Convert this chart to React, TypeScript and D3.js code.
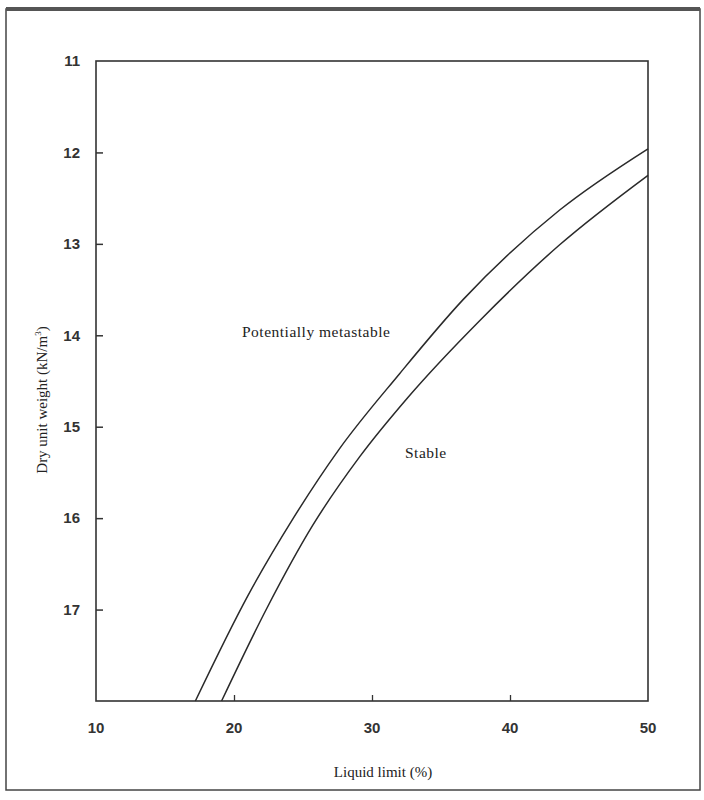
import React, { useEffect, useRef } from 'react';
import * as d3 from 'd3';

// liquid limit (%) vs dry unit weight (kN/m3) for the two boundary curves
const upperLL = [17.2, 21.0, 24.3, 27.6, 32.0, 36.6, 43.6, 50];
const upperGamma = [18.0, 16.85, 16.0, 15.25, 14.42, 13.61, 12.63, 11.96];
const lowerLL = [19.1, 22.4, 25.7, 29.1, 32.6, 37.8, 43.6, 50];
const lowerGamma = [18.0, 16.98, 16.08, 15.33, 14.68, 13.84, 13.01, 12.25];

const xTicks = [10, 20, 30, 40, 50];
const yTicks = [11, 12, 13, 14, 15, 16, 17];

const width = 704;
const height = 800;

const App = () => {
    const svgRef = useRef<SVGSVGElement>(null);

    useEffect(() => {
        const svg = d3.select(svgRef.current);
        svg.selectAll('*').remove();

        const x = d3.scaleLinear().domain([10, 50]).range([96, 648]);
        const y = d3.scaleLinear().domain([11, 18]).range([61, 701]);

        // page frame
        svg.append('rect')
            .attr('x', 6).attr('y', 9)
            .attr('width', 694).attr('height', 781)
            .attr('fill', '#fff')
            .attr('stroke', '#444')
            .attr('stroke-width', 1.5);
        svg.append('line')
            .attr('x1', 6).attr('x2', 700)
            .attr('y1', 9).attr('y2', 9)
            .attr('stroke', '#555')
            .attr('stroke-width', 4);

        // plot box
        svg.append('rect')
            .attr('x', x(10)).attr('y', y(11))
            .attr('width', x(50) - x(10))
            .attr('height', y(18) - y(11))
            .attr('fill', 'none')
            .attr('stroke', '#333')
            .attr('stroke-width', 1.6);

        // y axis, ticks pointing inward
        const yAxis = d3.axisRight(y).tickValues(yTicks.slice(1)).tickSize(7).tickFormat(() => '');
        svg.append('g')
            .attr('transform', `translate(${x(10)},0)`)
            .call(yAxis)
            .call(g => g.select('.domain').remove())
            .selectAll('line').attr('stroke', '#333').attr('stroke-width', 1.5);

        svg.append('g')
            .selectAll('text')
            .data(yTicks)
            .join('text')
            .attr('x', 80)
            .attr('y', d => y(d))
            .attr('dy', '0.35em')
            .attr('text-anchor', 'end')
            .attr('font-family', 'Liberation Sans, Arial, sans-serif')
            .attr('font-size', 15)
            .attr('font-weight', 'bold')
            .attr('fill', '#333')
            .text(d => d);

        // x axis, ticks pointing inward
        const xAxis = d3.axisTop(x).tickValues([20, 30, 40]).tickSize(6).tickFormat(() => '');
        svg.append('g')
            .attr('transform', `translate(0,${y(18)})`)
            .call(xAxis)
            .call(g => g.select('.domain').remove())
            .selectAll('line').attr('stroke', '#333').attr('stroke-width', 1.3);

        svg.append('g')
            .selectAll('text')
            .data(xTicks)
            .join('text')
            .attr('x', d => x(d))
            .attr('y', 733)
            .attr('text-anchor', 'middle')
            .attr('font-family', 'Liberation Sans, Arial, sans-serif')
            .attr('font-size', 15)
            .attr('font-weight', 'bold')
            .attr('fill', '#333')
            .text(d => d);

        // curves
        const line = d3.line<[number, number]>()
            .curve(d3.curveMonotoneX)
            .x(d => x(d[0]))
            .y(d => y(d[1]));

        const curves: [number, number][][] = [
            upperLL.map((v, i) => [v, upperGamma[i]]),
            lowerLL.map((v, i) => [v, lowerGamma[i]]),
        ];
        svg.append('g')
            .selectAll('path')
            .data(curves)
            .join('path')
            .attr('d', line)
            .attr('fill', 'none')
            .attr('stroke', '#2a2a2a')
            .attr('stroke-width', 1.5);

        // region labels
        svg.append('text')
            .attr('x', 242).attr('y', 337)
            .attr('font-family', 'Liberation Serif, Times New Roman, serif')
            .attr('font-size', 15.5)
            .attr('letter-spacing', 0.5)
            .attr('fill', '#222')
            .text('Potentially metastable');
        svg.append('text')
            .attr('x', 405).attr('y', 458)
            .attr('font-family', 'Liberation Serif, Times New Roman, serif')
            .attr('font-size', 15.5)
            .attr('letter-spacing', 0.5)
            .attr('fill', '#222')
            .text('Stable');

        // axis titles
        svg.append('text')
            .attr('x', 383).attr('y', 777)
            .attr('text-anchor', 'middle')
            .attr('font-family', 'Liberation Serif, Times New Roman, serif')
            .attr('font-size', 15)
            .attr('fill', '#222')
            .text('Liquid limit (%)');

        const yTitle = svg.append('text')
            .attr('transform', 'translate(47,400) rotate(-90)')
            .attr('text-anchor', 'middle')
            .attr('font-family', 'Liberation Serif, Times New Roman, serif')
            .attr('font-size', 15)
            .attr('fill', '#222');
        yTitle.append('tspan').text('Dry unit weight (kN/m');
        yTitle.append('tspan').attr('font-size', 9).attr('dy', -6).text('3');
        yTitle.append('tspan').attr('dy', 6).text(')');
    }, []);

    return (
        <svg
            ref={svgRef}
            width={width}
            height={height}
            style={{ position: 'absolute', left: 0, top: 0, display: 'block', background: '#fff' }}
        />
    );
};

export default App;
